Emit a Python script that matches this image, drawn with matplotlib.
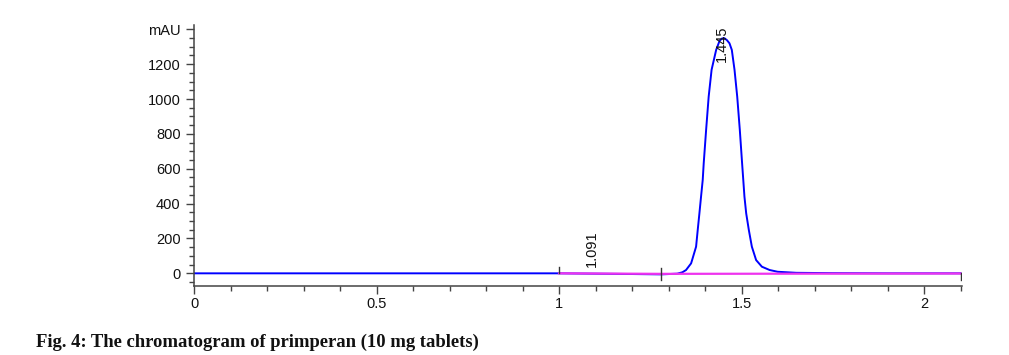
import matplotlib
matplotlib.use("Agg")
import matplotlib.pyplot as plt
from matplotlib.ticker import MultipleLocator, FixedLocator

# Signal (min, mAU)
time = [0.0, 0.5, 1.0, 1.1, 1.2, 1.28, 1.324, 1.338, 1.348, 1.3618, 1.3646, 1.3755,
        1.380, 1.3846, 1.3891, 1.3937, 1.3964, 1.403, 1.410, 1.418, 1.4305, 1.440,
        1.447, 1.4533, 1.460, 1.467, 1.4734, 1.4808, 1.4882, 1.4953, 1.5016, 1.5048,
        1.508, 1.5128, 1.520, 1.5283, 1.540, 1.5558, 1.577, 1.599, 1.65, 1.75,
        1.9, 2.1]
signal = [0, 0, 0, -2, -4, -6, -2, 6, 19, 57, 76, 153,
          249, 344, 440, 536, 631, 823, 1014, 1168, 1282, 1335,
          1348, 1349, 1338, 1320, 1282, 1168, 1014, 823, 631, 536,
          440, 344, 249, 153, 76, 38, 19, 9, 3, 1,
          0, 0]

# Integration baseline
base_time = [1.0, 1.28, 2.1]
base_signal = [0, -3, -1]

# Peak labels
peak_rt = [1.091, 1.445]
peak_text = ["1.091", "1.445"]
peak_label_y = [36, 1213]

# Integration event marks (x, ymin, ymax)
event_x = [1.0, 1.28, 2.1]
event_lo = [0, -40, -40]
event_hi = [36, 30, 0]

y_ticks = [0, 200, 400, 600, 800, 1000, 1200, 1400]
y_labels = ["0", "200", "400", "600", "800", "1000", "1200", "mAU"]
x_ticks = [0, 0.5, 1, 1.5, 2]
x_labels = ["0", "0.5", "1", "1.5", "2"]

plt.rcParams['font.family'] = ['Liberation Sans', 'DejaVu Sans']

fig = plt.figure(figsize=(10.09, 3.55), dpi=100)
ax = fig.add_axes([0.1923, 0.1952, 0.9534 - 0.1923, 0.9296 - 0.1952])

ax.plot(time, signal, color='#0000ff', lw=1.4, zorder=2, solid_joinstyle='round')
ax.plot(base_time, base_signal, color='#ee33ee', lw=1.6, zorder=3)
for x, lo, hi in zip(event_x, event_lo, event_hi):
    ax.plot([x, x], [lo, hi], color='#333333', lw=1.0, zorder=4)

for x, t, y in zip(peak_rt, peak_text, peak_label_y):
    ax.text(x, y, t, rotation=90, ha='center', va='bottom', fontsize=10.5,
            color='#111111', zorder=5)

ax.set_xlim(0, 2.104)
ax.set_ylim(-71, 1425)

ax.xaxis.set_major_locator(FixedLocator(x_ticks))
ax.set_xticklabels(x_labels)
ax.xaxis.set_minor_locator(MultipleLocator(0.1))
ax.yaxis.set_major_locator(FixedLocator(y_ticks))
ax.set_yticklabels(y_labels)
ax.yaxis.set_minor_locator(MultipleLocator(50))

for s in ['top', 'right']:
    ax.spines[s].set_visible(False)
for s in ['left', 'bottom']:
    ax.spines[s].set_color('#444444')
    ax.spines[s].set_linewidth(1.1)

ax.tick_params(axis='both', which='major', length=6, width=1.0, color='#444444',
               labelsize=10.5, labelcolor='#111111')
ax.tick_params(axis='both', which='minor', length=3.8, width=1.0, color='#444444')
ax.tick_params(axis='y', which='major', pad=3.6)
ax.tick_params(axis='x', which='major', pad=2)

fig.text(36 / 1009, 1 - 346.7 / 355, "Fig. 4: The chromatogram of primperan (10 mg tablets)",
         fontfamily='Liberation Serif', fontweight='bold', fontsize=13.4,
         ha='left', va='baseline', color='#111111')

fig.savefig("out.png", dpi=100)
